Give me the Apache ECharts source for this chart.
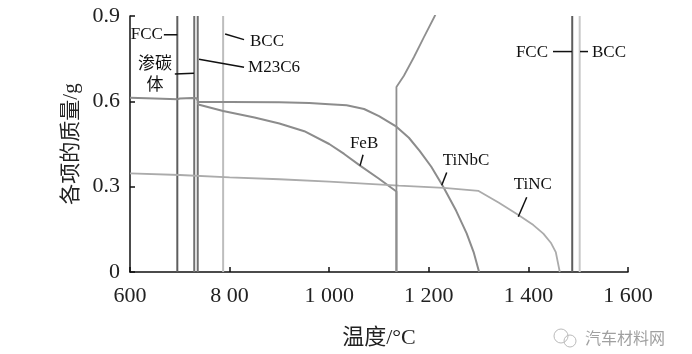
<!DOCTYPE html>
<html><head><meta charset="utf-8">
<script src="https://cdn.jsdelivr.net/npm/echarts@6/dist/echarts.min.js"></script>
<style>html,body{margin:0;padding:0;background:#fff}#c{width:692px;height:354px}</style>
</head><body><div id="c"></div>
<script>
// ---- axis ticks ----
const xTickValues = [600, 800, 1000, 1200, 1400, 1600];
const xTickLabels = ['600', '8 00', '1 000', '1 200', '1 400', '1 600'];
const yTickValues = [0, 0.3, 0.6, 0.9];
const yTickLabels = ['0', '0.3', '0.6', '0.9'];

// ---- vertical phase boundaries (temperature, °C) ----
const phaseLineNames = ['FCC', '渗碳体', 'M23C6', 'BCC', 'FCC', 'BCC'];
const phaseLineTemps = [695, 729, 736, 787, 1488, 1503];

// ---- curves: temperature / mass (g) ----
const tinbcT = [600, 650, 695, 700, 725, 734, 737, 800, 900, 960, 1000, 1035, 1070, 1100, 1135, 1160, 1182, 1205, 1229, 1255, 1276, 1290, 1301];
const tinbcM = [0.613, 0.610, 0.607, 0.610, 0.612, 0.611, 0.598, 0.598, 0.597, 0.594, 0.590, 0.586, 0.573, 0.548, 0.511, 0.472, 0.425, 0.370, 0.300, 0.215, 0.136, 0.070, 0];

const febT = [736, 737, 787, 850, 900, 950, 1000, 1030, 1062, 1100, 1135, 1135];
const febM = [0.598, 0.589, 0.566, 0.543, 0.522, 0.495, 0.450, 0.415, 0.374, 0.328, 0.283, 0];

const tincT = [600, 700, 800, 900, 1000, 1140, 1230, 1300, 1340, 1380, 1410, 1430, 1445, 1455, 1463];
const tincM = [0.347, 0.341, 0.333, 0.326, 0.318, 0.304, 0.296, 0.285, 0.244, 0.200, 0.165, 0.135, 0.103, 0.070, 0];

const liquidT = [1135, 1135, 1150, 1170, 1190, 1212, 1225];
const liquidM = [0, 0.650, 0.690, 0.755, 0.825, 0.900, 0.950];

// ---- styling (kept apart from data) ----
const phaseLineColors = ['#5e5e5e', '#707070', '#707070', '#bdbdbd', '#5e5e5e', '#c8c8c8'];
const serif = "'Liberation Serif','Times New Roman','Noto Sans CJK SC',serif";

const zip = (a, b) => a.map((v, i) => [v, b[i]]);

const chart = echarts.init(document.getElementById('c'), null, {renderer: 'canvas'});

const series = [];
phaseLineTemps.forEach((t, i) => {
  series.push({
    name: phaseLineNames[i], type: 'line', showSymbol: false, clip: true,
    data: [[t, 0], [t, 0.9]],
    lineStyle: {color: phaseLineColors[i], width: 2}, z: 2
  });
});
series.push({name: 'TiNbC', type: 'line', showSymbol: false, clip: true, data: zip(tinbcT, tinbcM), lineStyle: {color: '#8c8c8c', width: 2}});
series.push({name: 'FeB', type: 'line', showSymbol: false, clip: true, data: zip(febT, febM), lineStyle: {color: '#8c8c8c', width: 2}});
series.push({name: 'TiNC', type: 'line', showSymbol: false, clip: true, data: zip(tincT, tincM), lineStyle: {color: '#ababab', width: 1.8}});
series.push({name: 'Liquid', type: 'line', showSymbol: false, clip: true, data: zip(liquidT, liquidM), lineStyle: {color: '#8f8f8f', width: 1.8}});

chart.setOption({
  animation: false,
  backgroundColor: '#fff',
  grid: {left: 130, right: 64, top: 16, bottom: 78},
  xAxis: {
    type: 'value', min: 600, max: 1600, interval: 200,
    name: '温度/°C', nameLocation: 'middle', nameGap: 55,
    nameTextStyle: {fontFamily: serif, fontSize: 22, color: '#222'},
    axisLine: {lineStyle: {color: '#111', width: 1.5}},
    axisTick: {inside: true, length: 5, lineStyle: {color: '#111', width: 1.5}},
    axisLabel: {margin: 13, fontFamily: serif, fontSize: 22, color: '#222',
      formatter: v => { const i = xTickValues.indexOf(v); return i >= 0 ? xTickLabels[i] : ''; }},
    splitLine: {show: false}
  },
  yAxis: {
    type: 'value', min: 0, max: 0.9, interval: 0.3,
    name: '各项的质量/g', nameLocation: 'middle', nameGap: 47, nameRotate: 90,
    nameTextStyle: {fontFamily: serif, fontSize: 21, color: '#222'},
    axisLine: {show: true, lineStyle: {color: '#111', width: 1.5}},
    axisTick: {show: true, inside: true, length: 5, lineStyle: {color: '#111', width: 1.5}},
    axisLabel: {margin: 10, fontFamily: serif, fontSize: 22, color: '#222',
      formatter: v => { const i = yTickValues.findIndex(t => Math.abs(t - v) < 1e-9); return i >= 0 ? yTickLabels[i] : ''; }},
    splitLine: {show: false}
  },
  series
});

// ---- annotations (in data coordinates) ----
const notes = [
  {text: 'FCC', at: [666, 0.834], align: 'right', from: [668, 0.834], to: [695, 0.834]},
  {text: '渗碳\n体', at: [650, 0.694], align: 'center', from: [690, 0.696], to: [728.5, 0.699]},
  {text: 'BCC', at: [841, 0.810], align: 'left', from: [791, 0.837], to: [829, 0.817]},
  {text: 'M23C6', at: [837, 0.720], align: 'left', from: [738.6, 0.748], to: [829, 0.720]},
  {text: 'FeB', at: [1070, 0.453], align: 'center', from: [1068, 0.412], to: [1062, 0.374]},
  {text: 'TiNbC', at: [1275, 0.391], align: 'center', from: [1236, 0.350], to: [1226, 0.305]},
  {text: 'TiNC', at: [1409, 0.308], align: 'center', from: [1396.6, 0.263], to: [1379.7, 0.194]},
  {text: 'FCC', at: [1439.4, 0.772], align: 'right', from: [1449.4, 0.775], to: [1487.5, 0.775]},
  {text: 'BCC', at: [1527.7, 0.772], align: 'left', from: [1503.6, 0.775], to: [1519.7, 0.775]}
];
const px = p => chart.convertToPixel({gridIndex: 0}, p);
const graphic = [];
notes.forEach(n => {
  const a = px(n.at), f = px(n.from), t = px(n.to);
  graphic.push({type: 'line', shape: {x1: f[0], y1: f[1], x2: t[0], y2: t[1]}, style: {stroke: '#111', lineWidth: 1.5}, z: 10});
  graphic.push({type: 'text', x: a[0], y: a[1], style: {text: n.text, fill: '#111', font: '17px ' + serif, textAlign: n.align, textVerticalAlign: 'middle', lineHeight: 21}, z: 10});
});
// watermark
graphic.push({type: 'circle', shape: {cx: 561, cy: 336, r: 7}, style: {fill: 'none', stroke: '#bbb', lineWidth: 1}, z: 10});
graphic.push({type: 'circle', shape: {cx: 570, cy: 341, r: 6}, style: {fill: 'none', stroke: '#bbb', lineWidth: 1}, z: 10});
graphic.push({type: 'text', x: 585, y: 338, style: {text: '汽车材料网', fill: '#a0a0a0', font: "16px 'Noto Sans CJK SC'", textVerticalAlign: 'middle'}, z: 10});
chart.setOption({graphic});
</script>
</body></html>
